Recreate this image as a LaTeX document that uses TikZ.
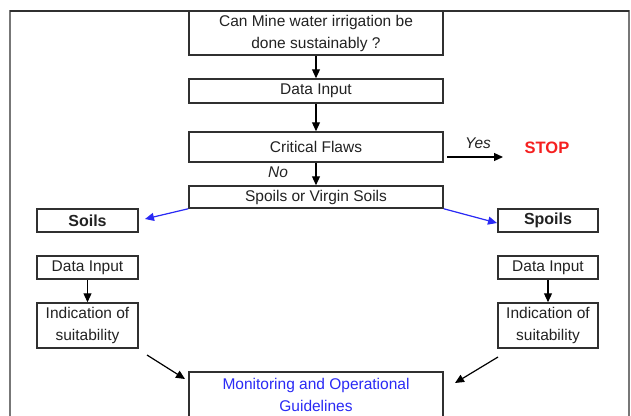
\documentclass[tikz,border=0pt]{standalone}
\usepackage{fontspec}
\setmainfont{Liberation Sans}
\usetikzlibrary{arrows.meta}
\definecolor{boxline}{HTML}{303030}
\definecolor{txt}{HTML}{222222}
\definecolor{myblue}{HTML}{2A2AF5}
\definecolor{myred}{HTML}{F52020}
\definecolor{framecol}{HTML}{777777}
\tikzset{
  fbox/.style={draw=boxline, line width=1.5pt, fill=white, inner sep=0pt, align=center,
    text=txt, font=\fontsize{15.5}{22}\selectfont},
  arr/.style={line width=1.2pt, draw=black, -{Triangle[length=9pt,width=8pt]}},
  barr/.style={line width=1.2pt, draw=myblue, -{Triangle[length=9pt,width=8pt]}, fill=myblue},
  lbl/.style={font=\fontsize{15.5}{18}\selectfont\itshape, text=txt, inner sep=0pt}
}
\begin{document}
\begin{tikzpicture}[x=1pt,y=-1pt]
\useasboundingbox (0,0) rectangle (631,415);
\clip (0,0) rectangle (631,415);
\fill[white] (0,0) rectangle (631,415);
% outer frame
\draw[framecol, line width=1.6pt] (10,11) rectangle (629,430);
\draw[boxline, line width=1.6pt] (10,11) -- (629,11);
% main column
\node[fbox, minimum width=254pt, minimum height=44pt] (q) at (316,33) {Can Mine water irrigation be\\done sustainably ?};
\node[fbox, minimum width=254pt, minimum height=24pt] (d1) at (316,91) {Data Input};
\node[fbox, minimum width=254pt, minimum height=30pt] (cf) at (316,147) {Critical Flaws};
\node[fbox, minimum width=254pt, minimum height=22pt] (sv) at (316,197) {Spoils or Virgin Soils};
% left column
\node[fbox, font=\fontsize{16}{20}\selectfont\bfseries, minimum width=101pt, minimum height=23pt] (soils) at (87.5,220.5) {Soils};
\node[fbox, minimum width=101pt, minimum height=23pt] (dl) at (87.5,267.5) {Data Input};
\node[fbox, minimum width=101pt, minimum height=45pt] (il) at (87.5,325.5) {Indication of\\suitability};
% right column
\node[fbox, font=\fontsize{16}{20}\selectfont\bfseries, minimum width=100pt, minimum height=23pt] (spoils) at (548,220.5) {Spoils};
\node[fbox, minimum width=100pt, minimum height=23pt] (dr) at (548,267.5) {Data Input};
\node[fbox, minimum width=100pt, minimum height=45pt] (ir) at (548,325.5) {Indication of\\suitability};
% bottom
\node[fbox, text=myblue, minimum width=254pt, minimum height=46pt] (mon) at (316,395) {Monitoring and Operational\\Guidelines};
% STOP
\node[font=\fontsize{16.5}{20}\selectfont\bfseries, text=myred, inner sep=0pt] (stop) at (547,148) {STOP};
\node[lbl] (yes) at (478,143) {Yes};
\node[lbl] (no) at (278,172) {No};
% coordinates
\coordinate (yesA) at (447,157);
\coordinate (yesB) at (503,157);
\coordinate (blA) at (145,219);
\coordinate (brA) at (497,223);
\coordinate (mlA) at (147,355);
\coordinate (mlB) at (185,379);
\coordinate (mrA) at (498,357);
\coordinate (mrB) at (455,383);
% connectors
\draw[arr] (q.south) -- (d1.north);
\draw[arr] (d1.south) -- (cf.north);
\draw[arr] (cf.south) -- (sv.north);
\draw[arr] (yesA) -- (yesB);
\draw[barr] (sv.south west) -- (blA);
\draw[barr] (sv.south east) -- (brA);
\draw[arr] (dl.south) -- (il.north);
\draw[arr] (dr.south) -- (ir.north);
\draw[arr] (mlA) -- (mlB);
\draw[arr] (mrA) -- (mrB);
\end{tikzpicture}
\end{document}
